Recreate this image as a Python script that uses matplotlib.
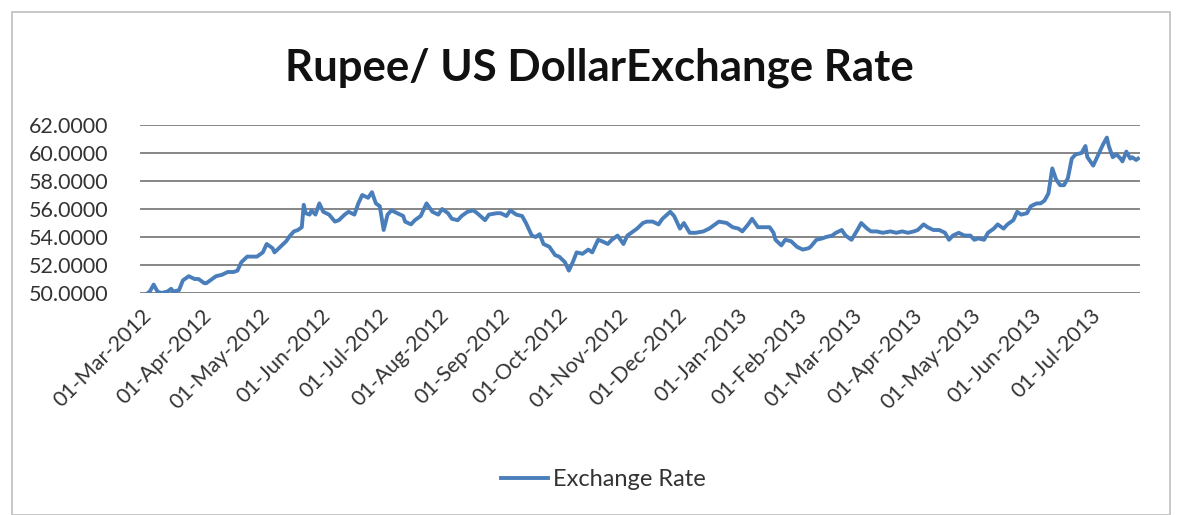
import pandas as pd
import matplotlib
matplotlib.use("Agg")
import matplotlib.pyplot as plt
import matplotlib.dates as mdates
from matplotlib.ticker import FormatStrFormatter
from matplotlib.patches import Rectangle

plt.rcParams['font.family'] = ['Lato', 'DejaVu Sans']

# Data: days since 01-Mar-2012, and the rate on that day
START = "2012-03-01"
day_offsets = [
    0, 1, 3, 5, 7, 10, 12, 13, 16, 18, 21, 24, 26, 29, 30, 32, 35, 38, 41, 44,
    46, 48, 51, 53, 56, 59, 61, 64, 65, 68, 71, 73, 75, 77, 79, 80,
    81, 83, 84, 86, 88, 90, 93, 96, 98, 101, 103, 106, 108, 110, 113, 115, 117,
    119, 121, 123, 125, 128, 131, 132, 135, 137, 140, 143, 146, 149, 151, 154,
    156, 159, 161, 164, 167,
    169, 173, 175, 179, 181, 184, 186, 189, 192, 194, 197, 199, 201, 203, 206,
    209, 211, 214, 216, 218, 220, 223, 226, 228, 231, 233, 236, 238, 241, 244,
    246, 249, 251, 254,
    256, 259, 262, 264, 268, 270, 273, 275, 278, 281, 285, 288, 291, 293, 297,
    300, 303, 305, 308, 310, 313, 315, 319, 321, 322, 325, 327, 330, 333, 336, 339,
    340, 343, 346, 348, 351, 353, 356, 358, 361, 364, 366, 369, 371, 374, 377,
    381, 384, 387, 390, 393, 395, 398, 400, 403, 406, 409, 411, 413, 416, 419,
    422, 424,
    426, 429, 431, 434, 436, 439, 441, 444, 446, 448, 451, 453, 456, 458, 460,
    462, 464, 466, 468, 470, 472, 474, 476, 479, 481, 482, 485, 488, 490, 492,
    493, 495, 497, 499, 500, 502, 504, 505, 507, 508,
]
rates = [
    50.0, 50.1, 50.6, 50.1, 50.0, 50.1, 50.3, 50.1, 50.2, 50.9, 51.2, 51.0, 51.0,
    50.7, 50.7, 50.9, 51.2, 51.3, 51.5, 51.5, 51.6, 52.2, 52.6, 52.6, 52.6, 52.9,
    53.5, 53.2, 52.9, 53.3, 53.7, 54.1, 54.4, 54.5, 54.7, 56.3,
    55.7, 55.6, 55.9, 55.6, 56.4, 55.8, 55.6, 55.1, 55.2, 55.6, 55.8, 55.6, 56.4,
    57.0, 56.8, 57.2, 56.4, 56.2, 54.5, 55.6, 55.9, 55.7, 55.5, 55.1, 54.9, 55.2,
    55.5, 56.4, 55.8, 55.6, 56.0, 55.7, 55.3, 55.2, 55.5, 55.8, 55.9,
    55.7, 55.2, 55.6, 55.7, 55.7, 55.5, 55.9, 55.6, 55.5, 55.0, 54.1, 54.0, 54.2,
    53.5, 53.3, 52.7, 52.6, 52.2, 51.6, 52.2, 52.9, 52.8, 53.1, 52.9, 53.8, 53.7,
    53.5, 53.8, 54.1, 53.5, 54.1, 54.4, 54.6, 55.0,
    55.1, 55.1, 54.9, 55.3, 55.8, 55.5, 54.6, 55.0, 54.3, 54.3, 54.4, 54.6, 54.9,
    55.1, 55.0, 54.7, 54.6, 54.4, 54.9, 55.3, 54.7, 54.7, 54.7, 54.3, 53.8, 53.4,
    53.8, 53.7, 53.3, 53.1, 53.2,
    53.3, 53.8, 53.9, 54.0, 54.1, 54.3, 54.5, 54.1, 53.8, 54.5, 55.0, 54.6, 54.4,
    54.4, 54.3, 54.4, 54.3, 54.4, 54.3, 54.4, 54.5, 54.9, 54.7, 54.5, 54.5, 54.3,
    53.8, 54.1, 54.3, 54.1, 54.1, 53.8,
    53.9, 53.8, 54.3, 54.6, 54.9, 54.6, 54.9, 55.2, 55.8, 55.6, 55.7, 56.2, 56.4,
    56.4, 56.6, 57.1, 58.9, 58.1, 57.7, 57.7, 58.2, 59.6, 59.9, 60.0, 60.5, 59.7,
    59.1, 60.0, 60.6, 61.1, 60.5, 59.7, 59.9, 59.6, 59.4, 60.1, 59.6, 59.7, 59.5,
    59.6,
]
y_ticks = [50, 52, 54, 56, 58, 60, 62]
title = "Rupee/ US DollarExchange Rate"
series_name = "Exchange Rate"

dates = pd.Timestamp(START) + pd.to_timedelta(day_offsets, unit="D")

fig = plt.figure(figsize=(11.8, 5.15), dpi=100)
ax = fig.add_axes([140 / 1180, 222 / 515, 1000 / 1180, 168 / 515])

line, = ax.plot(dates, rates, color="#4a7ebb", lw=2.8, solid_joinstyle="round",
                label=series_name)

ax.set_ylim(50, 62)
ax.set_yticks(y_ticks)
ax.yaxis.set_major_formatter(FormatStrFormatter('%.4f'))
ax.grid(axis='y', color='#868686', lw=1.4)
ax.set_axisbelow(True)
for s in ax.spines.values():
    s.set_visible(False)

ax.xaxis.set_major_locator(mdates.MonthLocator())
ax.xaxis.set_major_formatter(mdates.DateFormatter('%d-%b-%Y'))
ax.set_xlim(dates[0] - pd.Timedelta(days=4), dates[-1] + pd.Timedelta(days=1))
ax.tick_params(length=0, labelsize=15.5, colors='#333333')
ax.yaxis.set_tick_params(pad=23)
ax.xaxis.set_tick_params(pad=14)
plt.setp(ax.get_xticklabels(), rotation=45, ha='right', va='center',
         rotation_mode='anchor')

fig.text(0.508, 1 - 68 / 515, title, ha='center', va='center',
         fontsize=31.5, fontweight='bold', color='#111111')

fig.legend(handles=[line], loc='center', bbox_to_anchor=(0.511, 0.068),
           frameon=False, fontsize=17, handlelength=2.0, handletextpad=0.2,
           labelcolor='#333333')

# thin chart-area border
fig.add_artist(Rectangle((12 / 1180, 0.0), 1158 / 1180, 503 / 515,
                         transform=fig.transFigure, fill=False,
                         edgecolor='#bfbfbf', lw=1.2))

fig.savefig("out.png", dpi=100)
